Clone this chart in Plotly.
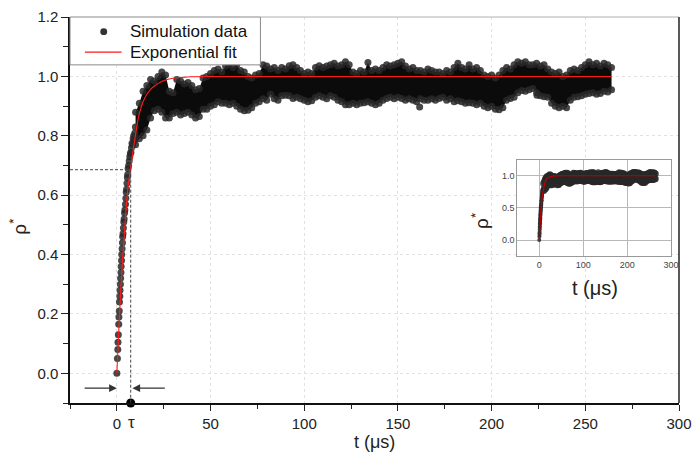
import plotly.graph_objects as go

# ---------------- data ----------------
# early rise of the simulation data (t in µs, rho*)
rise_t = [0, 0.3, 0.5, 0.6, 0.8, 1.0, 1.1, 1.3, 1.4, 1.6, 1.7, 1.9, 2.0, 2.2, 2.3,
          2.5, 2.6, 2.8, 3.0, 3.1, 3.3, 3.5, 3.7, 3.9, 4.1, 4.3, 4.6, 4.8, 5.0, 5.2,
          5.4, 5.6, 5.8, 6.0, 6.3, 6.6, 6.9, 7.2, 7.5, 7.8, 8.1, 8.4, 8.7, 9.0, 9.3,
          9.6, 9.9]
rise_rho = [0.0, 0.05, 0.08, 0.105, 0.13, 0.165, 0.19, 0.21, 0.24, 0.26, 0.28, 0.30, 0.32, 0.34, 0.36,
            0.38, 0.40, 0.42, 0.44, 0.46, 0.47, 0.49, 0.51, 0.52, 0.54, 0.55, 0.57, 0.59, 0.61, 0.62,
            0.64, 0.66, 0.67, 0.69, 0.70, 0.715, 0.73, 0.74, 0.745, 0.76, 0.775, 0.77, 0.79, 0.80, 0.785,
            0.81, 0.83]

# noisy plateau: upper / lower extent of the data cloud every 2 µs (t = 10 ... 264)
sim_t = list(range(10, 265, 2))
sim_hi = [0.88, 0.91, 0.95, 0.97, 0.99, 0.985, 1.00, 1.015, 1.005, 0.95,
          0.945, 0.99, 0.985, 0.975, 0.98, 0.97, 0.955, 0.96, 0.995, 1.00,
          1.01, 1.02, 1.025, 1.015, 1.035, 1.04, 1.03, 1.04, 1.02, 1.015,
          1.00, 0.995, 1.005, 1.01, 1.04, 1.035, 1.025, 1.03, 1.02, 1.03,
          1.025, 1.036, 1.04, 1.03, 1.02, 1.01, 1.015, 1.01, 1.03, 1.036,
          1.03, 1.035, 1.04, 1.045, 1.035, 1.04, 1.05, 1.04, 1.015, 1.01,
          1.02, 1.015, 1.047, 1.02, 1.025, 1.02, 1.03, 1.04, 1.035, 1.04,
          1.045, 1.05, 1.035, 1.025, 1.03, 1.02, 1.02, 1.015, 1.025, 1.02,
          1.015, 1.015, 1.01, 1.02, 1.015, 1.03, 1.045, 1.03, 1.025, 1.04,
          1.025, 1.03, 1.02, 1.005, 1.0, 1.005, 0.995, 1.005, 1.02, 1.03,
          1.025, 1.04, 1.05, 1.045, 1.05, 1.04, 1.04, 1.045, 1.035, 1.04,
          1.025, 1.015, 1.01, 1.015, 1.0, 1.005, 1.02, 1.025, 1.02, 1.03,
          1.04, 1.05, 1.04, 1.045, 1.035, 1.045, 1.04, 1.03]
sim_lo = [0.77, 0.79, 0.80, 0.82, 0.86, 0.885, 0.89, 0.88, 0.86, 0.86,
          0.875, 0.88, 0.87, 0.875, 0.88, 0.87, 0.86, 0.865, 0.89, 0.89,
          0.90, 0.905, 0.915, 0.91, 0.91, 0.905, 0.91, 0.90, 0.89, 0.885,
          0.886, 0.895, 0.91, 0.915, 0.925, 0.92, 0.94, 0.925, 0.92, 0.935,
          0.937, 0.935, 0.926, 0.93, 0.925, 0.92, 0.915, 0.918, 0.93, 0.935,
          0.93, 0.925, 0.935, 0.93, 0.92, 0.915, 0.905, 0.905, 0.91, 0.905,
          0.91, 0.912, 0.915, 0.91, 0.905, 0.91, 0.92, 0.926, 0.93, 0.925,
          0.93, 0.926, 0.92, 0.925, 0.92, 0.915, 0.925, 0.92, 0.92, 0.925,
          0.92, 0.926, 0.93, 0.92, 0.925, 0.915, 0.918, 0.915, 0.91, 0.912,
          0.91, 0.905, 0.91, 0.90, 0.895, 0.90, 0.89, 0.888, 0.895, 0.92,
          0.926, 0.93, 0.945, 0.953, 0.95, 0.955, 0.96, 0.945, 0.935, 0.932,
          0.93, 0.91, 0.90, 0.895, 0.90, 0.895, 0.92, 0.93, 0.932, 0.935,
          0.94, 0.943, 0.945, 0.94, 0.943, 0.95, 0.948, 0.955]

# isolated points below the cloud
out_t = [161.6, 224.2]
out_rho = [0.897, 0.937]

# exponential fit
fit_t = [0, 1, 2, 3, 4, 5, 6, 7, 8, 9, 10, 11, 12, 14, 16, 18, 20, 23, 26, 30, 35, 40, 50, 100, 150, 200, 264]
fit_rho = [0.0, 0.14, 0.27, 0.38, 0.47, 0.56, 0.63, 0.675, 0.72, 0.765, 0.805, 0.845, 0.875,
           0.915, 0.94, 0.957, 0.968, 0.98, 0.988, 0.994, 0.997, 0.999, 1.0, 1.0, 1.0, 1.0, 1.0]

# characteristic time marker
tau = 7.4
rho_tau = 0.686

# axis ticks
main_xticks = [0, 50, 100, 150, 200, 250, 300]
main_xticktext = ["0", "50", "100", "150", "200", "250", "300"]
main_yticks = [0.0, 0.2, 0.4, 0.6, 0.8, 1.0, 1.2]
inset_xticks = [0, 100, 200, 300]
inset_yticks = [0.0, 0.5, 1.0]
legend_labels = ["Simulation data", "Exponential fit"]

# ---------------- styling ----------------
FONT = "Arial, 'Liberation Sans', sans-serif"
PT = "rgba(40,40,40,0.85)"
BAND = "#0b0b0b"

pts_t = rise_t + out_t
pts_rho = rise_rho + out_rho

fig = go.Figure()

# ----- main panel -----
fig.add_trace(go.Scatter(x=sim_t, y=sim_lo, mode="lines+markers", marker=dict(size=7, color=PT),
                         line=dict(width=0, color=BAND),
                         showlegend=False, hoverinfo="skip"))
fig.add_trace(go.Scatter(x=sim_t, y=sim_hi, mode="lines+markers", marker=dict(size=7, color=PT),
                         line=dict(width=0, color=BAND),
                         fill="tonexty", fillcolor=BAND, showlegend=False, hoverinfo="skip"))
fig.add_trace(go.Scatter(x=pts_t, y=pts_rho, mode="markers", name=legend_labels[0],
                         marker=dict(size=7, color=PT), showlegend=False))
fig.add_trace(go.Scatter(x=fit_t, y=fit_rho, mode="lines", name=legend_labels[1],
                         line=dict(color="#ff1a1a", width=1.1, shape="spline"), showlegend=False))
fig.add_trace(go.Scatter(x=[tau], y=[-0.1], mode="markers", marker=dict(size=9, color="#000"),
                         showlegend=False, cliponaxis=False, hoverinfo="skip"))

# ----- inset -----
fig.add_trace(go.Scatter(x=sim_t, y=sim_lo, mode="lines+markers", marker=dict(size=7, color=PT),
                         line=dict(width=0, color=BAND),
                         showlegend=False, xaxis="x2", yaxis="y2", hoverinfo="skip"))
fig.add_trace(go.Scatter(x=sim_t, y=sim_hi, mode="lines+markers", marker=dict(size=7, color=PT),
                         line=dict(width=0, color=BAND),
                         fill="tonexty", fillcolor=BAND, showlegend=False,
                         xaxis="x2", yaxis="y2", hoverinfo="skip"))
fig.add_trace(go.Scatter(x=pts_t, y=pts_rho, mode="markers", marker=dict(size=4, color=PT),
                         showlegend=False, xaxis="x2", yaxis="y2", hoverinfo="skip"))
fig.add_trace(go.Scatter(x=fit_t, y=fit_rho, mode="lines", line=dict(color="#c00000", width=1.2, shape="spline"),
                         showlegend=False, xaxis="x2", yaxis="y2", hoverinfo="skip"))

GRID = "#e2e2e2"
fig.update_layout(
    width=700, height=468,
    margin=dict(l=70, r=16, t=8, b=65),
    paper_bgcolor="white", plot_bgcolor="white",
    font=dict(family=FONT, size=15, color="#222"),
    showlegend=False,
    xaxis=dict(domain=[0, 1], range=[-25, 300], tickvals=main_xticks, ticktext=main_xticktext,
               ticks="outside", ticklen=6, tickwidth=1.2, tickcolor="#222",
               showline=True, linecolor="#111", linewidth=1.5,
               showgrid=True, gridcolor=GRID, griddash="dot", gridwidth=1, zeroline=False,
               minor=dict(dtick=25, tick0=0, ticks="outside", ticklen=4, tickcolor="#222", showgrid=False),
               tickfont=dict(size=15, color="#222"), ticklabeloverflow="allow"),
    yaxis=dict(domain=[0, 1], range=[-0.1, 1.2005], tickvals=main_yticks, tickformat=".1f",
               ticks="outside", ticklen=7, tickwidth=1.2, tickcolor="#222",
               showline=True, linecolor="#111", linewidth=1.5,
               showgrid=True, gridcolor=GRID, griddash="dot", gridwidth=1, zeroline=False,
               minor=dict(dtick=0.1, tick0=0, ticks="outside", ticklen=5, tickcolor="#222", showgrid=False),
               tickfont=dict(size=15, color="#222"), ticklabeloverflow="allow"),
    xaxis2=dict(domain=[0.7345, 0.987], anchor="y2", range=[-50, 300], tickvals=inset_xticks,
                showline=True, mirror=True, linecolor="#9a9a9a", linewidth=1,
                showgrid=True, gridcolor="#b8b8b8", gridwidth=1, zeroline=False, ticks="",
                tickfont=dict(size=9, color="#444"), ticklabeloverflow="allow"),
    yaxis2=dict(domain=[0.3805, 0.6304], anchor="x2", range=[-0.25, 1.25], tickvals=inset_yticks,
                tickformat=".1f", showline=True, mirror=True, linecolor="#9a9a9a", linewidth=1,
                showgrid=True, gridcolor="#b8b8b8", gridwidth=1, zeroline=False, ticks="",
                tickfont=dict(size=9, color="#444")),
)

shapes = [
    # white cover for the inset region (drawn above main grid, below inset grid)
    dict(type="rect", xref="x2", yref="y2", x0=-50, x1=300, y0=-0.25, y1=1.25,
         fillcolor="white", line=dict(width=0), layer="below"),
    # dashed guides to tau
    dict(type="line", xref="x", yref="y", x0=-25, x1=tau, y0=rho_tau, y1=rho_tau,
         line=dict(color="#444", width=1, dash="3px,2px"), layer="above"),
    dict(type="line", xref="x", yref="y", x0=tau, x1=tau, y0=rho_tau, y1=-0.1,
         line=dict(color="#444", width=1, dash="3px,2px"), layer="above"),
    # frame: top (light) and right (dark)
    dict(type="line", xref="paper", yref="paper", x0=0.3127, x1=1, y0=1, y1=1,
         line=dict(color="#b0b0b0", width=1), layer="above"),
    dict(type="line", xref="paper", yref="paper", x0=1, x1=1, y0=0, y1=1,
         line=dict(color="#222", width=1.5), layer="above"),
    # legend box
    dict(type="rect", xref="paper", yref="paper", x0=0.0, x1=0.3127, y0=0.876, y1=1.0,
         fillcolor="white", line=dict(color="#8a8a8a", width=1), layer="above"),
    # legend symbols
    dict(type="circle", xref="paper", yref="paper", x0=0.0554 - 0.0057, x1=0.0554 + 0.0057,
         y0=0.962 - 0.0089, y1=0.962 + 0.0089, fillcolor="#333", line=dict(width=0), layer="above"),
    dict(type="line", xref="paper", yref="paper", x0=0.0244, x1=0.0847, y0=0.9089, y1=0.9089,
         line=dict(color="#ff1a1a", width=1.1), layer="above"),
]
fig.update_layout(shapes=shapes)

ann = [
    dict(x=0.0945, y=0.962, xref="paper", yref="paper", text=legend_labels[0], showarrow=False,
         xanchor="left", yanchor="middle", font=dict(size=17, color="#111")),
    dict(x=0.0945, y=0.9089, xref="paper", yref="paper", text=legend_labels[1], showarrow=False,
         xanchor="left", yanchor="middle", font=dict(size=17, color="#111")),
    dict(x=0, y=-0.05, ax=-18, ay=-0.05, xref="x", yref="y", axref="x", ayref="y", text="",
         showarrow=True, arrowhead=2, arrowsize=1.4, arrowwidth=1.1, arrowcolor="#333", standoff=0),
    dict(x=8.3, y=-0.05, ax=26.4, ay=-0.05, xref="x", yref="y", axref="x", ayref="y", text="",
         showarrow=True, arrowhead=2, arrowsize=1.4, arrowwidth=1.1, arrowcolor="#333", standoff=0),
    dict(x=tau + 0.6, y=-0.0506, xref="x", yref="paper", text="τ", showarrow=False,
         xanchor="center", yanchor="middle", font=dict(size=17, color="#222")),
    dict(x=0.5, y=-0.1, xref="paper", yref="paper", text="t (μs)", showarrow=False,
         xanchor="center", yanchor="middle", font=dict(size=18, color="#222")),
    dict(x=-0.0847, y=0.458, xref="paper", yref="paper", text="ρ<sup>*</sup>", showarrow=False,
         textangle=-90, xanchor="center", yanchor="middle", font=dict(size=19, color="#222")),
    dict(x=0.8616, y=0.2987, xref="paper", yref="paper", text="t (μs)", showarrow=False,
         xanchor="center", yanchor="middle", font=dict(size=20, color="#222")),
    dict(x=0.674, y=0.473, xref="paper", yref="paper", text="ρ<sup>*</sup>", showarrow=False,
         textangle=-90, xanchor="center", yanchor="middle", font=dict(size=19, color="#222")),
]
fig.update_layout(annotations=ann)

fig.write_html("out.html", config={"displayModeBar": False},
               post_script="document.body.style.margin='0';")
